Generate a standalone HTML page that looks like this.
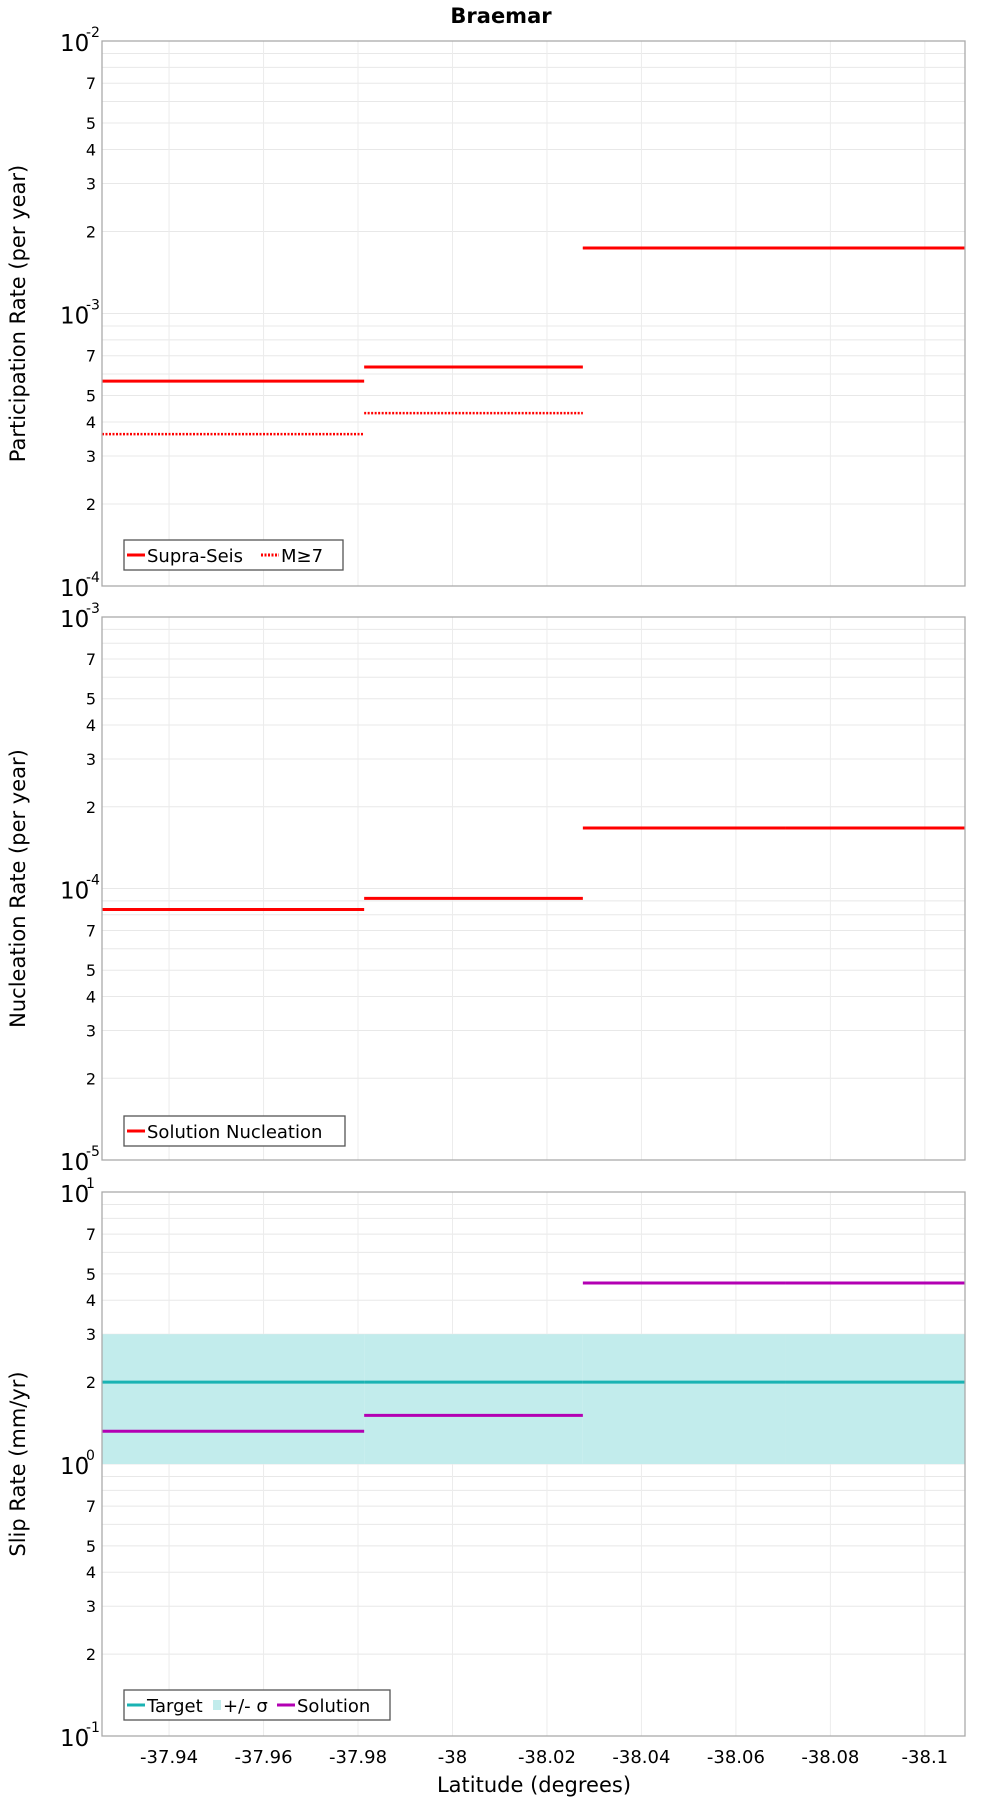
<!DOCTYPE html>
<html><head><meta charset="utf-8"><style>
body{margin:0;background:#fff;}
svg{display:block;font-family:"DejaVu Sans","Liberation Sans",sans-serif;}
</style></head><body>
<svg id="c" width="1000" height="1800" viewBox="0 0 1000 1800">
<text x="501" y="23" text-anchor="middle" font-size="21" font-weight="bold">Braemar</text>
</svg>
<script>
const xTicks = [-37.94,-37.96,-37.98,-38,-38.02,-38.04,-38.06,-38.08,-38.1];
const xTickLabels = ["-37.94","-37.96","-37.98","-38","-38.02","-38.04","-38.06","-38.08","-38.1"];
const segStarts = [-37.9258,-37.9813,-38.0276,-38.0704];
const segEnds = [-37.9813,-38.0276,-38.0704,-38.1085];
const supraSeis = [5.65e-4,6.36e-4,1.74e-3,1.74e-3];
const m7 = [3.61e-4,4.31e-4,1.74e-3,1.74e-3];
const nucleation = [8.37e-5,9.2e-5,1.67e-4,1.67e-4];
const slipTarget = [2,2,2,2];
const slipLow = [1,1,1,1];
const slipHigh = [3,3,3,3];
const slipSolution = [1.32,1.51,4.63,4.63];

const NS="http://www.w3.org/2000/svg";
const svg=document.getElementById('c');
const L=102,R=965,X0=-37.9258,X1=-38.1085;
function xs(v){return L+(v-X0)/(X1-X0)*(R-L);}
function mk(tag,at,parent){const e=document.createElementNS(NS,tag);for(const k in at)e.setAttribute(k,at[k]);(parent||svg).appendChild(e);return e;}

function panel(name,top,bot,e0,e1,title){
  const g=mk('g',{});
  
  
  const ys=v=>bot-(Math.log10(v)-e0)/(e1-e0)*(bot-top);
  // grid
  for(let e=e0;e<e1;e++){for(let m=1;m<10;m++){const v=m*Math.pow(10,e);const y=ys(v);
    const l=mk('line',{x1:L,x2:R,y1:y,y2:y,stroke:'#e8e8e8','stroke-width':1},g);
    
    if(m===1)continue;
    if([2,3,4,5,7].includes(m)){const t=mk('text',{x:96,y:y+6,'text-anchor':'end','font-size':16},g);t.textContent=m;
      }
  }}
  for(let e=e0;e<=e1;e++){const y=ys(Math.pow(10,e));
    const t=mk('text',{x:60,y:y+10,'font-size':23},g);t.textContent='10';
    
    const s=mk('text',{x:86,y:y-4,'font-size':14},g);s.textContent=String(e);
    }
  xTicks.forEach(v=>{const x=xs(v);const l=mk('line',{x1:x,x2:x,y1:top,y2:bot,stroke:'#ececec','stroke-width':1},g);
    });
  const tt=mk('text',{x:0,y:0,'font-size':21,'text-anchor':'middle',transform:`translate(25,${(top+bot)/2}) rotate(-90)`},g);
  tt.textContent=title;
  return {g,ys,top,bot};
}
function frame(p){const r=mk('rect',{x:L,y:p.top,width:R-L,height:p.bot-p.top,fill:'none',stroke:'#aaa','stroke-width':1.3},p.g);
  }
function steps(p,vals,color,dash,name,w){
  vals.forEach((v,i)=>{const y=p.ys(v);const l=mk('line',{x1:xs(segStarts[i]),x2:xs(segEnds[i]),y1:y,y2:y,stroke:color,'stroke-width':w||3},p.g);
    if(dash)l.setAttribute('stroke-dasharray',dash);
    });
}
function legend(p,x,y,w,items){
  const g=mk('g',{},p.g);
  mk('rect',{x:x,y:y,width:w,height:30,fill:'#fff',stroke:'#555','stroke-width':1.3},g);
  let cx=x+3;
  items.forEach(it=>{
    const eg=mk('g',{},g);
    if(it.band)mk('rect',{x:cx,y:y+10,width:8,height:10,fill:it.color},eg);
    else{const l=mk('line',{x1:cx,x2:cx+18,y1:y+15,y2:y+15,stroke:it.color,'stroke-width':3},eg);if(it.dash)l.setAttribute('stroke-dasharray',it.dash);}
    cx+=it.band?10:20;
    const t=mk('text',{x:cx,y:y+22,'font-size':18},eg);t.textContent=it.label;
    cx+=it.tw;
  });
}
// panel 1
const p1=panel('participation',41,586,-4,-2,'Participation Rate (per year)');
steps(p1,supraSeis,'#f00',null,'supra-seis');
steps(p1,m7,'#f00','2,1.5','m7',2.5);
frame(p1);
legend(p1,124,540,219,[{color:'#f00',label:'Supra-Seis',tw:114},{color:'#f00',dash:'2,1.5',label:'M≥7',tw:50}]);
// panel 2
const p2=panel('nucleation',617,1160,-5,-3,'Nucleation Rate (per year)');
steps(p2,nucleation,'#f00',null,'nucleation');
frame(p2);
legend(p2,124,1116,221,[{color:'#f00',label:'Solution Nucleation',tw:200}]);
// panel 3
const p3=panel('slip-rate',1192,1736,-1,1,'Slip Rate (mm/yr)');
slipHigh.forEach((v,i)=>{const y1=p3.ys(v),y2=p3.ys(slipLow[i]);
  const r=mk('rect',{x:xs(segStarts[i]),y:y1,width:xs(segEnds[i])-xs(segStarts[i]),height:y2-y1,fill:'#c2ecec'},p3.g);
  });
steps(p3,slipTarget,'#1ab3b3',null,'target');
steps(p3,slipSolution,'#b300b3',null,'solution');
frame(p3);
legend(p3,124,1690,266,[{color:'#1ab3b3',label:'Target',tw:66},{color:'#c2ecec',band:true,label:'+/- σ',tw:54},{color:'#b300b3',label:'Solution',tw:80}]);
// x ticks
xTicks.forEach((v,i)=>{const t=mk('text',{x:xs(v),y:1763,'text-anchor':'middle','font-size':18});t.textContent=xTickLabels[i];
  });
const xt=mk('text',{x:534,y:1792,'text-anchor':'middle','font-size':21});xt.textContent='Latitude (degrees)';

</script>
</body></html>
